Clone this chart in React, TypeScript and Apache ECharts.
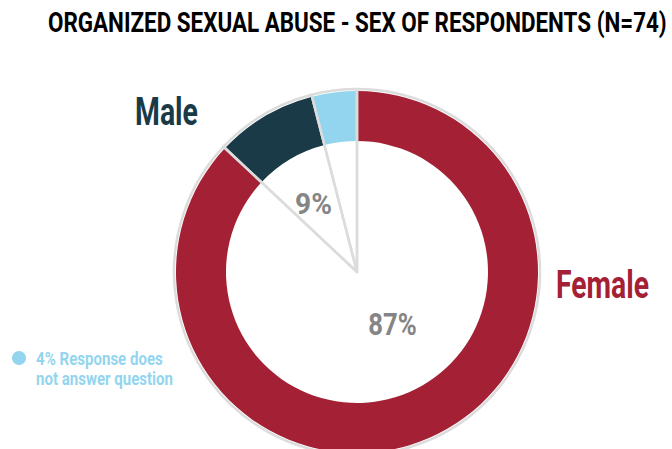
import React, { useEffect, useRef } from "react";
import * as echarts from "echarts";

const categories = ["Female", "Male", "Response does not answer question"];
const values = [87, 9, 4];
const colors = ["#a32035", "#1a3a47", "#93d5ee"];
const title = "ORGANIZED SEXUAL ABUSE - SEX OF RESPONDENTS (N=74)";
const legendLines = [`${values[2]}% Response does`, "not answer question"];

const FONT = "Roboto, 'DejaVu Sans', sans-serif";

function measure(text: string, size: number): number {
  const c = document.createElement("canvas").getContext("2d");
  if (!c) return text.length * size * 0.6;
  c.font = `bold ${size}px ${FONT}`;
  return c.measureText(text).width;
}

function fitText(text: string, size: number, x: number, yMid: number, width: number, fill: string, align: "left" | "center" = "left") {
  const sx = width / measure(text, size);
  return {
    type: "text",
    z: 100,
    x,
    y: yMid,
    scaleX: sx,
    style: {
      text,
      x: 0,
      y: 0,
      fontFamily: FONT,
      fontWeight: "bold",
      fontSize: size,
      fill,
      align,
      verticalAlign: "middle",
    },
  };
}

export default function App() {
  const ref = useRef<HTMLDivElement>(null);
  useEffect(() => {
    if (!ref.current) return;
    const chart = echarts.init(ref.current, null, { renderer: "svg" });
    const data = categories.map((name, i) => ({ name, value: values[i], itemStyle: { color: colors[i] } }));
    chart.setOption({
      animation: false,
      backgroundColor: "#ffffff",
      series: [
        {
          type: "pie",
          silent: true,
          center: [357, 272],
          radius: [131, 181],
          startAngle: 90,
          clockwise: true,
          label: { show: false },
          labelLine: { show: false },
          data,
          itemStyle: { borderWidth: 0 },
          z: 1,
        },
        {
          type: "pie",
          silent: true,
          center: [357, 272],
          radius: [0, 183],
          startAngle: 90,
          clockwise: true,
          label: { show: false },
          labelLine: { show: false },
          data: categories.map((name, i) => ({ name, value: values[i] })),
          itemStyle: { color: "rgba(0,0,0,0)", borderColor: "#dcdcdc", borderWidth: 2.5 },
          z: 2,
        },
      ],
      graphic: [
        fitText(title, 27, 48, 23, 619, "#000000"),
        fitText(categories[1], 38, 135, 112, 63, colors[1]),
        fitText(categories[0], 38, 556, 284.5, 93, colors[0]),
        fitText(`${values[1]}%`, 30, 313.5, 203.5, 37, "#858585", "center"),
        fitText(`${values[0]}%`, 31, 392.5, 325, 48.5, "#858585", "center"),
        {
          type: "circle",
          z: 100,
          shape: { cx: 19, cy: 358, r: 7 },
          style: { fill: colors[2] },
        },
        fitText(legendLines[0], 18, 36, 359.5, 127, colors[2]),
        fitText(legendLines[1], 18, 36, 379.5, 137, colors[2]),
      ],
    });
    return () => chart.dispose();
  }, []);
  return <div ref={ref} style={{ position: "fixed", left: 0, top: 0, width: 672, height: 449 }} />;
}
